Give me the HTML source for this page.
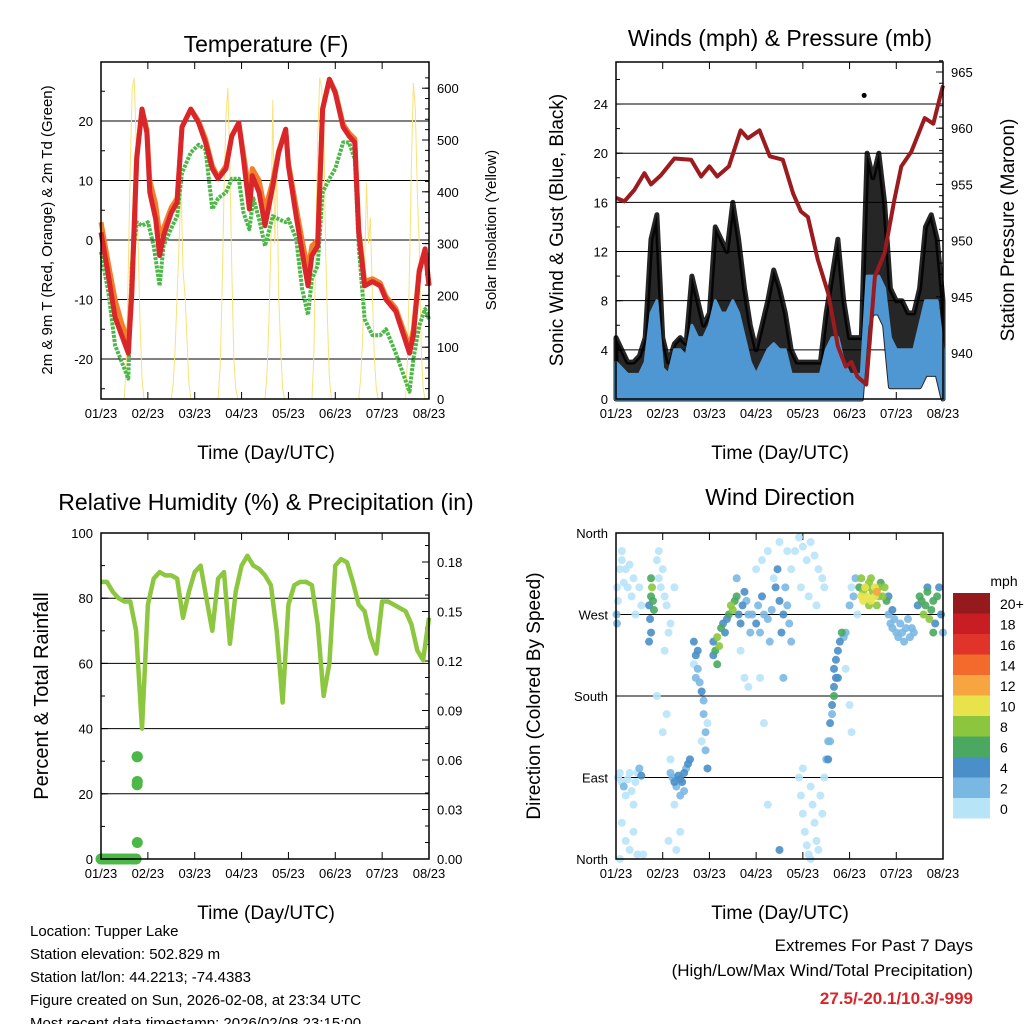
<!DOCTYPE html>
<html><head><meta charset="utf-8">
<style>
html,body{margin:0;padding:0;background:#fff;}
svg{display:block;font-family:"Liberation Sans",Arial,sans-serif;}
</style></head>
<body>
<svg id="chart" width="1024" height="1024" viewBox="0 0 1024 1024" xmlns="http://www.w3.org/2000/svg">
<rect width="1024" height="1024" fill="#fff"/>
</svg>
<script>
// ---------- DATA ----------
const dayLabels = ["01/23","02/23","03/23","04/23","05/23","06/23","07/23","08/23"];
// Temperature panel (hours since start, degF)
const tempHours = [0,3.8,7.2,10.6,14,15.8,18.3,21,23.5,25,28,30,32,36,39,41.5,46,50,53.5,57,60,64,67,70.6,73,76,77.5,81,84,88,91,94.6,96,100,103,106,108,111,113.5,117,120,124,127,130,132,135,139,143,146,151,158,160,163,166,168];
const temp2m = [1.3,-6,-13,-16,-19,-9,13.6,22,18,8,3.5,-2.6,0.7,4.6,6.3,19,22,19.7,16.4,12,10.3,12,17.5,19.7,13.6,5.2,10.8,8,2.4,9,14.7,18.6,12.5,4,-2,-7.7,-2.6,-1,22,27,24.7,19,17.5,16.4,1.3,-7.7,-7,-7.7,-10,-12,-19,-16,-5.4,-1.5,-7.7];
const temp9m = [3,-4,-10,-14,-17,-8,14,22,18.5,10,6,1,2,5.5,7,19,22,20,17,12.5,10.5,12.5,17.5,19.7,14.5,8,12,10,5,10,15,18.6,13,5.5,0,-5,-1,0,22,27,25,19.5,18,17,2,-7,-6.5,-7.2,-9.5,-11.5,-18,-15,-5,-1.5,-7.5];
const dew2m = [-2,-8.8,-17.7,-20.5,-23.3,-4.3,3,2.4,3,-1,-7.7,-1,2,4,11.3,14.7,16,15.2,5.2,7,8,10.3,10.3,4.6,1.8,7,3.5,-1,4,3.5,3,3.5,0.2,-8.2,-12.6,-6.5,-4.3,8,10.3,12,16.4,16.4,13.6,-1,-13.3,-16,-16,-15,-19,-25.5,-20,-14.4,-11.6,-13.3];
const dewHours = [0,3.8,7.2,10.6,14,15.8,18.3,21,24,27,30,32,36,39,41.5,46,50,53.5,57,60,64,67,70.6,73,76,78,81,84,88,91,94.6,96,100,103,106,108,111,113.5,117,120,124,127,130,132,135,139,143,146,151,158,160,163,166,168];
// hourly solar insolation (W/m2), index = hour
const solar = [0,0,0,0,0,0,0,0,0,0,0,0,0,80,250,450,600,620,500,300,150,40,0,0,
0,0,0,0,0,0,0,0,0,0,0,0,0,30,100,200,300,410,250,200,120,30,0,0,
0,0,0,0,0,0,0,0,0,0,0,0,0,60,200,400,550,600,450,250,80,20,0,0,
0,0,0,0,0,0,0,0,0,0,0,0,0,50,150,300,578,300,450,200,100,20,0,0,
0,0,0,0,0,0,0,0,0,0,0,0,0,80,300,500,620,600,550,300,150,40,0,0,
0,0,0,0,0,0,0,0,0,0,0,0,0,40,120,250,417,300,350,200,80,20,0,0,
0,0,0,0,0,0,0,0,0,0,0,0,0,80,250,450,610,560,400,300,100,20,0,0,0];
// Wind panel, 3-hour grid
const windHours = [0,3,6,9,12,15,18,21,24,27,30,33,36,39,42,45,48,51,54,57,60,63,66,69,72,75,78,81,84,87,90,93,96,99,102,105,108,111,114,117,120,123,126,129,132,135,138,141,144,147,150,153,156,159,162,165,168];
const gustHigh = [5,4,3,3,3.5,5,13,15,5,3,4.5,5,4.5,10,8,6,7,14,13,12,16,13,9,6,4,6,8,10.5,9,7,4,3,3,3,3,3,7,10,13,8,5,5,5,20,18,20,16,9,8,8,7,7,9,14,15,13,8];
const windHigh = [3,2.5,2,2,2,3,7,8,2.5,2,4,4,3.5,6,5,5,6,8,7,7,8,7,5,3,2,3,4,4.5,4,4,2,2,2,2,2,2,4,5,5,3,2,2,2,10,10,10,9,5,4,4,4,4,6,8,8,8,4];
const windLow = [0,0,0,0,0,0,0,0,0,0,0,0,0,0,0,0,0,0,0,0,0,0,0,0,0,0,0,0,0,0,0,0,0,0,0,0,0,0,0,0,0,0,0,6,7,7,6,1,1,1,1,1,1,2,2,2,0];
const gustOutlierT = [127.5];
const gustOutlierV = [24.7];
const presHours = [0,4.3,9.4,14.6,18,23,30,38.6,43.7,48,52,58,64,67.7,73.7,79,85.7,91,95,98.6,103.7,109,114,118,121,124,128.6,133,138,143,146.6,151.7,158.6,163,168];
const pressure = [953.8,953.5,954.5,956,955,955.8,957.3,957.2,955.7,956.6,955.7,956.6,959.8,959.1,959.8,957.5,957.2,954.2,952.6,952.1,948.3,945.3,940.6,938.8,939.2,937.9,937.2,946.8,948.9,953.6,956.6,957.9,960.9,960.4,963.8];
// RH panel
const rhHours = [0,3,6,9,12,15,18,21,24,27,30,33,36,39,42,45,48,51,54,57,60,63,66,69,72,75,78,81,84,87,90,93,96,99,102,105,108,111,114,117,120,123,126,129,132,135,138,141,144,147,150,153,156,159,162,165,168];
const rh = [85,85,82,80,79,79,70,40,78,86,88,87,87,86,74,82,88,90,80,70,86,88,66,82,90,93,90,89,87,84,70,48,78,84,85,85,84,72,50,60,90,92,91,85,78,76,68,63,79,79,78,77,76,72,64,61,74];
const precipHours = [0,1,2,3,4,5,6,7,8,9,10,11,12,13,14,15,16,17,18,18.6,18.5,18.6,18.5,18.6];
const precipVals = [0,0,0,0,0,0,0,0,0,0,0,0,0,0,0,0,0,0,0,0.010,0.045,0.047,0.062,0.062];
// Wind direction observations: [hour, degrees, mph]
const windDirObs = [[0.5,300,1],[1,285,1],[0.3,270,3],[0.5,260,3],[2,320,1],[3,330,1],[4,305,1],[5,320,1],[6,300,1],[7,325,1],[3,340,1],[8,290,1],[9,310,1],[12,300,1],[10,270,1],[13,280,1],
[1,90,1],[2,95,1],[3,85,1],[4,80,3],[5,70,1],[6,88,1],[7,95,1],[8,75,1],[9,60,1],[10,85,1],[11,95,1],[12,100,3],[13,92,4],[3,40,1],[5,20,1],[7,10,1],[2,0,1],[9,30,1],[11,5,1],[14,5,1],
[17,280,5],[18,290,7],[18.5,300,8],[19,285,6],[17.5,265,5],[18,250,4],[17,240,4],[19.5,275,7],[18,310,6],
[21,330,1],[22,310,1],[23,300,1],[24,320,1],[25,290,1],[26,280,1],[27,250,1],[28,260,1],[22,340,1],[25,230,1],[30,300,1],[21,180,1],[24,140,1],[26,160,1],[28,110,1],
[28,95,3],[29,90,3],[30,85,4],[31,80,3],[32,92,5],[33,88,5],[34,85,4],[35,95,4],[36,100,3],[37,105,4],[33,70,2],[30,60,1],[35,75,3],[38,110,4],[27,20,1],[31,10,1],[33,30,1],
[40,240,4],[41,225,5],[42,210,3],[41,200,3],[43,195,3],[44,185,4],[40,215,1],[42,230,5],[45,175,3],[45,160,3],[46,140,2],[46,120,3],[47,100,4],[47,150,1],[44,130,1],
[50,240,5],[51,230,7],[52,245,8],[53,235,9],[54,255,6],[55,260,5],[56,250,4],[50,225,4],[52,215,6],[57,265,4],
[58,270,6],[59,280,8],[60,275,9],[61,285,7],[62,290,6],[63,270,5],[64,260,4],[65,280,5],[66,295,4],[67,285,3],[68,270,3],[69,250,2],[62,310,2],[64,230,1],[66,200,1],[68,190,1],
[70,270,3],[72,260,4],[73,280,3],[74,250,3],[75,290,4],[76,270,2],[78,265,3],[79,240,2],[80,275,3],[82,300,5],[83,320,5],[84,285,4],[85,250,4],[86,270,5],[87,300,3],[88,280,2],[89,260,3],[90,240,2],[72,320,1],[75,330,1],[78,340,1],[81,310,1],[84,350,1],[88,340,1],[90,320,1],[86,200,2],[74,200,1],[76,150,1],[78,60,1],[84,10,4],
[92,340,1],[94,355,1],[96,345,1],[98,330,1],[100,350,1],[102,335,1],[104,320,1],[106,310,1],[95,300,1],[99,290,1],[103,280,1],[107,300,1],[94,90,1],[95,70,1],[96,50,1],[97,30,1],[98,15,1],[99,5,1],[100,80,1],[101,60,1],[102,40,1],[103,20,1],[104,10,1],[105,70,1],[106,50,1],[100,0,1],[107,90,1],[96,100,1],[108,110,2],[109,130,2],
[110,150,4],[111,170,4],[112,190,5],[113,200,4],[112,210,5],[113,220,4],[114,230,5],[115,240,4],[116,250,6],[117,245,3],[114,200,4],[111,160,3],[110,130,3],[109,110,4],[118,250,2],[118,210,1],[112,180,6],
[120,280,2],[121,300,1],[122,290,2],[123,310,2],[124,270,1],[120,170,1],[121,140,1],
[125,300,7],[126,310,8],[127,295,9],[128,300,10],[129,290,11],[130,305,9],[131,285,10],[132,295,8],[133,300,11],[134,280,9],[135,290,8],[136,305,7],[137,290,9],[138,300,8],[139,285,7],[127,285,10],[129,300,9],[131,310,8],[133,290,10],[135,300,9],[130,280,8],[134,295,12],[126,290,11],
[140,270,3],[141,260,3],[142,255,2],[143,265,3],[144,250,2],[145,245,3],[146,260,2],[147,250,3],[148,240,2],[149,255,3],[150,265,2],[151,245,3],[152,255,2],[140,290,5],[142,275,4],[153,250,3],
[155,280,5],[156,290,6],[157,285,7],[158,270,8],[159,280,6],[160,295,7],[161,265,8],[162,275,6],[163,285,7],[164,260,5],[165,290,6],[166,300,5],[167,270,4],[168,250,3],[160,300,5],[163,250,6]];
const speedBinLabels = ["20+","18","16","14","12","10","8","6","4","2","0"];
const speedBinColors = ["#951a1d","#c81e23","#e0332a","#f26a2c","#f7a540","#e8e34a","#8cc63f","#4aa860","#4a8fc8","#7ab8e4","#b8e4f8"];

// ---------- HELPERS ----------
const NS = "http://www.w3.org/2000/svg";
const svg = document.getElementById("chart");
function mk(tag, attrs, parent) {
  const e = document.createElementNS(NS, tag);
  for (const k in attrs) e.setAttribute(k, attrs[k]);
  (parent || svg).appendChild(e);
  return e;
}
function txt(s, x, y, size, anchor, parent, extra) {
  const e = mk("text", Object.assign({x: x, y: y, "font-size": size, "text-anchor": anchor || "middle", fill: "#000"}, extra || {}), parent);
  e.textContent = s;
  return e;
}
function pathFrom(xs, ys) {
  return xs.map((x, i) => (i ? "L" : "M") + x.toFixed(1) + " " + ys[i].toFixed(1)).join(" ");
}

function panel(name, x0, x1, y0, y1) {
  const g = mk("g", {});
  
  
  return {g, x0, x1, y0, y1, xt: h => x0 + h / 168 * (x1 - x0)};
}
function frame(p, leftTicks, leftMinor, yL, rightTicks, rightMinor, yR, gridVals, leftFmt, rightFmt) {
  const g = p.g;
  gridVals.forEach(v => {
    const gl = mk("line", {x1: p.x0, x2: p.x1, y1: yL(v), y2: yL(v), stroke: "#000", "stroke-width": 1}, g);
    
    
  });
  for (let d = 0; d <= 7; d++) {
    const x = p.x0 + d / 7 * (p.x1 - p.x0);
    mk("line", {x1: x, x2: x, y1: p.y1, y2: p.y1 - 7, stroke: "#000", "stroke-width": 1}, g);
    mk("line", {x1: x, x2: x, y1: p.y0, y2: p.y0 + 7, stroke: "#000", "stroke-width": 1}, g);
    const t = txt(dayLabels[d], x, p.y1 + 19, 13, "middle", g);
    
    
  }
  leftMinor.forEach(v => mk("line", {x1: p.x0, x2: p.x0 + 4, y1: yL(v), y2: yL(v), stroke: "#000", "stroke-width": 1}, g));
  leftTicks.forEach(v => {
    mk("line", {x1: p.x0, x2: p.x0 + 7, y1: yL(v), y2: yL(v), stroke: "#000", "stroke-width": 1}, g);
    const t = txt(leftFmt(v), p.x0 - 8, yL(v) + 5, 13, "end", g);
    
    
  });
  rightMinor.forEach(v => mk("line", {x1: p.x1, x2: p.x1 - 4, y1: yR(v), y2: yR(v), stroke: "#000", "stroke-width": 1}, g));
  rightTicks.forEach(v => {
    mk("line", {x1: p.x1, x2: p.x1 - 7, y1: yR(v), y2: yR(v), stroke: "#000", "stroke-width": 1}, g);
    const t = txt(rightFmt(v), p.x1 + 8, yR(v) + 5, 13, "start", g);
    
    
  });
}
function border(p) {
  const r = mk("rect", {x: p.x0, y: p.y0, width: p.x1 - p.x0, height: p.y1 - p.y0, fill: "none", stroke: "#000", "stroke-width": 1.5}, p.g);
  
  
}
function range(a, b, s) { const r = []; for (let v = a; v <= b + 1e-9; v += s) r.push(+v.toFixed(4)); return r; }

// ---------- PANEL 1: TEMPERATURE ----------
const p1 = panel("temperature-panel", 101, 429, 62, 399);
const yT = v => 240 - v * 5.95;
const yS = v => 399 - v * 0.518;
frame(p1, [-20,-10,0,10,20], range(-25,25,5), yT, range(0,600,100), range(0,620,20), yS, [-20,-10,0,10,20], v => String(v), v => String(v));
{
  const hrs = solar.map((_, i) => i);
  const s = mk("path", {d: pathFrom(hrs.map(p1.xt), solar.map(yS)), fill: "none", stroke: "#f8e27a", "stroke-width": 1}, p1.g);
  
  
  const d = mk("path", {d: pathFrom(dewHours.map(p1.xt), dew2m.map(yT)), fill: "none", stroke: "#4cb848", "stroke-width": 4, "stroke-dasharray": "3 1.2", "stroke-linejoin": "round"}, p1.g);
  
  
  const o = mk("path", {d: pathFrom(tempHours.map(p1.xt), temp9m.map(yT)), fill: "none", stroke: "#f27f2c", "stroke-width": 5, "stroke-linejoin": "round"}, p1.g);
  
  
  const r = mk("path", {d: pathFrom(tempHours.map(p1.xt), temp2m.map(yT)), fill: "none", stroke: "#d9262a", "stroke-width": 5, "stroke-linejoin": "round"}, p1.g);
  
  
}
border(p1);

// ---------- PANEL 2: WINDS & PRESSURE ----------
const p2 = panel("winds-pressure-panel", 616, 943, 62, 399);
const yW = v => 399 - v * 12.29;
const yP = v => 353 - (v - 940) * 11.24;
frame(p2, [0,4,8,12,16,20,24], range(0,26,2), yW, [940,945,950,955,960,965], range(937,966,1), yP, [4,8,12,16,20,24], v => String(v), v => String(v));
{
  const xs = windHours.map(p2.xt);
  const gp = pathFrom(xs, gustHigh.map(yW)) + " " + pathFrom(xs.slice().reverse(), windLow.slice().reverse().map(yW)).replace("M", "L") + " Z";
  const g1 = mk("path", {d: gp, fill: "#000", "fill-opacity": 0.85, stroke: "#000", "stroke-opacity": 0.85, "stroke-width": 5, "stroke-linejoin": "round"}, p2.g);
  
  
  gustOutlierT.forEach((t, i) => {
    const c = mk("circle", {cx: p2.xt(t), cy: yW(gustOutlierV[i]), r: 2.5, fill: "#000"}, p2.g);
    
    
  });
  const wp = pathFrom(xs, windHigh.map(yW)) + " " + pathFrom(xs.slice().reverse(), windLow.slice().reverse().map(yW)).replace("M", "L") + " Z";
  const w1 = mk("path", {d: wp, fill: "#4f97d2", stroke: "#4f97d2", "stroke-width": 3, "stroke-linejoin": "round"}, p2.g);
  
  
  const pr = mk("path", {d: pathFrom(presHours.map(p2.xt), pressure.map(yP)), fill: "none", stroke: "#9b1b1e", "stroke-width": 4, "stroke-linejoin": "round"}, p2.g);
  
  
}
border(p2);

// ---------- PANEL 3: RH & PRECIP ----------
const p3 = panel("humidity-precip-panel", 101, 429, 533, 859);
const yRH = v => 859 - v * 3.26;
const yPr = v => 859 - v * 1650;
frame(p3, [0,20,40,60,80,100], range(0,100,10), yRH, [0,0.03,0.06,0.09,0.12,0.15,0.18], range(0,0.19,0.01), yPr, [20,40,60,80], v => String(v), v => v.toFixed(2));
{
  const l = mk("path", {d: pathFrom(rhHours.map(p3.xt), rh.map(yRH)), fill: "none", stroke: "#8dc63f", "stroke-width": 4.5, "stroke-linejoin": "round"}, p3.g);
  
  
  precipHours.forEach((t, i) => {
    const c = mk("circle", {cx: p3.xt(t), cy: yPr(precipVals[i]), r: 5.5, fill: "#4cb848"}, p3.g);
    
    
  });
}
border(p3);

// ---------- PANEL 4: WIND DIRECTION ----------
const p4 = panel("wind-direction-panel", 616, 943, 533, 859);
const yD = d => 859 - d * 0.9056;
const dirNames = ["North","East","South","West","North"];
frame(p4, [], [], yD, [], [], yD, [90,180,270], v => "", v => "");
[0,90,180,270,360].forEach((d, i) => {
  mk("line", {x1: 616, x2: 623, y1: yD(d), y2: yD(d), stroke: "#000"}, p4.g);
  const t = txt(dirNames[i], 608, yD(d) + 5, 13, "end", p4.g);
  
  
});
function spdColor(s) { const b = Math.min(10, Math.floor(s / 2)); return speedBinColors[10 - b]; }
windDirObs.slice().sort((a, b) => a[2] - b[2]).forEach(o => {
  const c = mk("circle", {cx: p4.xt(o[0]), cy: yD(o[1]), r: 4, fill: spdColor(o[2]), "fill-opacity": 0.9}, p4.g);
  
  
});
border(p4);
{
  const cb = mk("g", {});
  
  
  txt("mph", 1004, 586, 14, "middle", cb);
  speedBinLabels.forEach((lab, i) => {
    const r = mk("rect", {x: 953, y: 593 + i * 20.5, width: 37, height: 20.5, fill: speedBinColors[i]}, cb);
    
    
    const t = txt(lab, 1000, 593 + i * 20.5 + 16, 14, "start", cb);
    
    
  });
}

// ---------- TITLES ----------
function label(s, x, y, size, name, rot, anchor, extra) {
  const e = txt(s, x, y, size, anchor || "middle", svg, extra);
  if (rot) e.setAttribute("transform", "rotate(" + rot + " " + x + " " + y + ")");
  
  
  return e;
}
label("Temperature (F)", 266, 52, 23, "temperature-title");
label("Winds (mph) & Pressure (mb)", 780, 46, 23, "winds-title");
label("Relative Humidity (%) & Precipitation (in)", 266, 510, 23, "humidity-title");
label("Wind Direction", 780, 505, 23, "wind-direction-title");
label("Time (Day/UTC)", 266, 459, 19, "temperature-x-axis-title");
label("Time (Day/UTC)", 780, 459, 19, "winds-x-axis-title");
label("Time (Day/UTC)", 266, 919, 19, "humidity-x-axis-title");
label("Time (Day/UTC)", 780, 919, 19, "direction-x-axis-title");
label("2m & 9m T (Red, Orange) & 2m Td (Green)", 52, 230, 15, "temperature-y-axis-title", -90);
label("Solar Insolation (Yellow)", 496, 230, 15, "solar-y-axis-title", -90);
label("Sonic Wind & Gust (Blue, Black)", 563, 230, 19, "wind-y-axis-title", -90);
label("Station Pressure (Maroon)", 1014, 230, 19, "pressure-y-axis-title", -90);
label("Percent & Total Rainfall", 48, 696, 20, "humidity-y-axis-title", -90);
label("Direction (Colored By Speed)", 540, 696, 19, "direction-y-axis-title", -90);
const info = ["Location: Tupper Lake","Station elevation: 502.829 m","Station lat/lon: 44.2213; -74.4383","Figure created on Sun, 2026-02-08, at 23:34 UTC","Most recent data timestamp: 2026/02/08 23:15:00"];
info.forEach((s, i) => label(s, 30, 936 + i * 23, 15, "station-info-line", 0, "start"));
label("Extremes For Past 7 Days", 973, 951, 17, "extremes-title", 0, "end");
label("(High/Low/Max Wind/Total Precipitation)", 973, 976, 17, "extremes-subtitle", 0, "end");
label("27.5/-20.1/10.3/-999", 973, 1004, 17, "extremes-values", 0, "end", {fill: "#d9262a", "font-weight": "bold"});
</script>
</body></html>
